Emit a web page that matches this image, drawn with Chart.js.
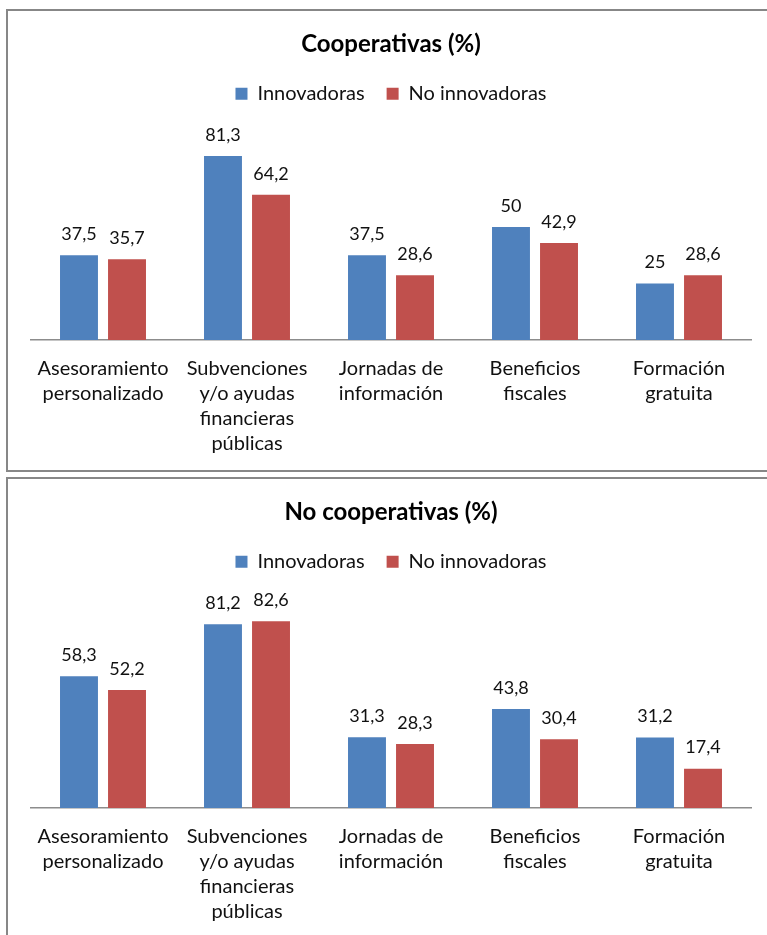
<!DOCTYPE html>
<html>
<head>
<meta charset="utf-8">
<script src="https://cdn.jsdelivr.net/npm/chart.js@4"></script>
<style>
  html, body { margin: 0; padding: 0; background: #fff; }
  body { width: 767px; height: 935px; position: relative; overflow: hidden; }
  .frame { position: absolute; left: 6px; width: 790px; border: 2px solid #878787; box-sizing: border-box; }
  #frame1 { top: 9px; height: 463px; }
  #frame2 { top: 477px; height: 480px; }
  canvas { position: absolute; left: 0; }
  #c1 { top: 10px; }
  #c2 { top: 478px; }
</style>
</head>
<body>
<div class="frame" id="frame1"></div>
<div class="frame" id="frame2"></div>
<canvas id="c1" width="767" height="462"></canvas>
<canvas id="c2" width="767" height="462"></canvas>
<script>
// Support measures asked about, one entry per category
const categories = [
  ['Asesoramiento', 'personalizado'],
  ['Subvenciones', 'y/o ayudas', 'financieras', 'públicas'],
  ['Jornadas de', 'información'],
  ['Beneficios', 'fiscales'],
  ['Formación', 'gratuita']
];
const seriesNames = ['Innovadoras', 'No innovadoras'];

// Cooperativas (%)
const coopInnovadoras = [37.5, 81.3, 37.5, 50, 25];
const coopNoInnovadoras = [35.7, 64.2, 28.6, 42.9, 28.6];

// No cooperativas (%)
const noCoopInnovadoras = [58.3, 81.2, 31.3, 43.8, 31.2];
const noCoopNoInnovadoras = [52.2, 82.6, 28.3, 30.4, 17.4];

const chartTitles = ['Cooperativas (%)', 'No cooperativas (%)'];

const BLUE = '#4F81BD';
const RED = '#C0504D';
const FONT = 'Lato, "Open Sans", sans-serif';

// Writes each bar's value above it, with a decimal comma
const valueLabels = {
  id: 'valueLabels',
  afterDatasetsDraw(chart) {
    const ctx = chart.ctx;
    ctx.save();
    ctx.font = '18px ' + FONT;
    ctx.fillStyle = '#111';
    ctx.textAlign = 'center';
    ctx.textBaseline = 'bottom';
    chart.data.datasets.forEach((ds, i) => {
      chart.getDatasetMeta(i).data.forEach((bar, j) => {
        const text = String(ds.data[j]).replace('.', ',');
        ctx.fillText(text, bar.x, bar.y - 12);
      });
    });
    ctx.restore();
  }
};

function makeChart(id, title, innov, noInnov) {
  return new Chart(document.getElementById(id), {
    type: 'bar',
    data: {
      labels: categories,
      datasets: [
        { label: seriesNames[0], data: innov, backgroundColor: BLUE },
        { label: seriesNames[1], data: noInnov, backgroundColor: RED }
      ]
    },
    options: {
      responsive: false,
      animation: false,
      events: [],
      categoryPercentage: 0.667,
      barPercentage: 0.79,
      layout: { padding: { left: 31, right: 16, top: 0, bottom: 0 } },
      plugins: {
        title: {
          display: true,
          text: title,
          color: '#000',
          font: { family: FONT, size: 24, weight: 'bold' },
          padding: { top: 20, bottom: 3 }
        },
        legend: {
          display: true,
          labels: {
            color: '#111',
            font: { family: FONT, size: 20 },
            boxWidth: 12,
            boxHeight: 12,
            padding: 22
          }
        },
        tooltip: { enabled: false }
      },
      scales: {
        x: {
          grid: { display: false, drawTicks: false },
          border: { display: true, color: '#8c8c8c', width: 1.5 },
          ticks: {
            color: '#111',
            font: { family: FONT, size: 20, lineHeight: 1.25 },
            padding: 16,
            maxRotation: 0,
            autoSkip: false
          }
        },
        y: {
          display: false,
          min: 0,
          max: 100
        }
      }
    },
    plugins: [valueLabels]
  });
}

makeChart('c1', chartTitles[0], coopInnovadoras, coopNoInnovadoras);
makeChart('c2', chartTitles[1], noCoopInnovadoras, noCoopNoInnovadoras);
</script>
</body>
</html>
